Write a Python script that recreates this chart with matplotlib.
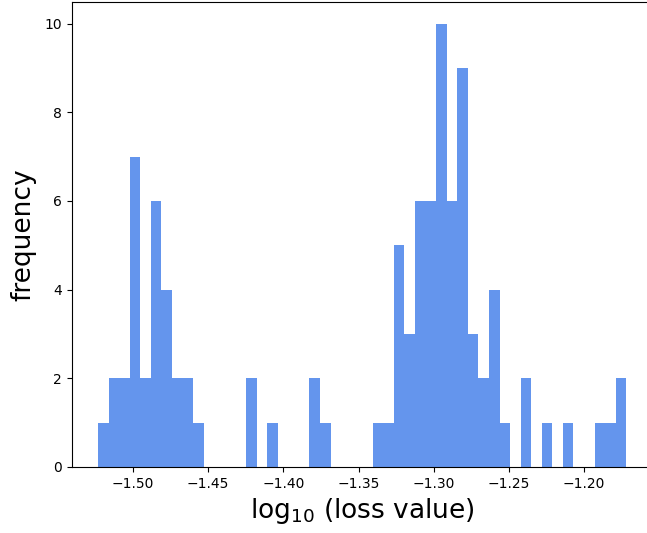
import matplotlib
matplotlib.use('Agg')
import matplotlib.pyplot as plt
import numpy as np

# histogram of log10(loss), 50 bins
data_min = -1.5231
data_max = -1.1720
n_bins = 50
counts = [1, 2, 2, 7, 2, 6, 4, 2, 2, 1,
          0, 0, 0, 0, 2, 0, 1, 0, 0, 0,
          2, 1, 0, 0, 0, 0, 1, 1, 5, 3,
          6, 6, 10, 6, 9, 3, 2, 4, 1, 0,
          2, 0, 1, 0, 1, 0, 0, 1, 1, 2]

edges = np.linspace(data_min, data_max, n_bins + 1)
centers = (edges[:-1] + edges[1:]) / 2

fig = plt.figure(figsize=(6.47, 5.33), dpi=100)
# right spine falls just outside the saved image, as in the reference
ax = fig.add_axes([71.7 / 647, 66 / 533, 581 / 647, 465.5 / 533])

ax.hist(centers, bins=edges, weights=counts, color='cornflowerblue')

ax.set_xlabel('log$_{10}$ (loss value)', fontsize=19)
ax.set_ylabel('frequency', fontsize=19, labelpad=6)
ax.tick_params(labelsize=10)

plt.savefig('out.png', dpi=100)
